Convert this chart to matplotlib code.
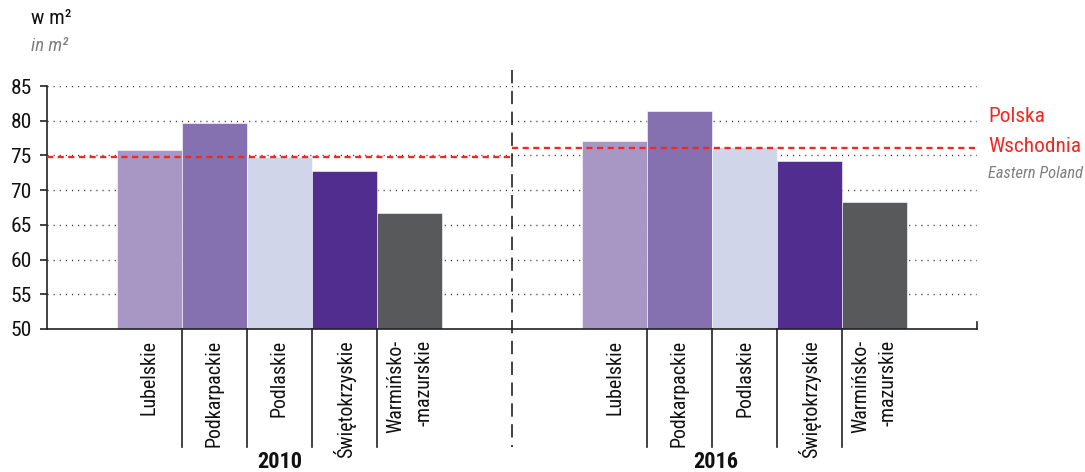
import matplotlib
matplotlib.use("Agg")
import matplotlib.pyplot as plt
from matplotlib import font_manager as fm

# ---- data ----
years = ["2010", "2016"]
regions = ["Lubelskie", "Podkarpackie", "Podlaskie", "Świętokrzyskie", "Warmińsko-\n-mazurskie"]
values_2010 = [75.8, 79.7, 74.8, 72.8, 66.7]
values_2016 = [77.1, 81.4, 76.2, 74.2, 68.3]
eastern_poland = [74.8, 76.0]
yticks = [50, 55, 60, 65, 70, 75, 80, 85]
colors = ["#A897C5", "#8671B0", "#D0D5EA", "#502D8E", "#58595B"]

# pick a condensed font if available
names = {f.name for f in fm.fontManager.ttflist}
stretch = "normal"
family = "DejaVu Sans"
for cand in ["Liberation Sans Narrow", "Roboto Condensed", "Open Sans Condensed", "Noto Sans Condensed"]:
    if cand in names:
        family = cand
        break
else:
    if any(f.name == "DejaVu Sans" and str(f.stretch) in ("condensed", "semi-condensed")
           for f in fm.fontManager.ttflist):
        stretch = "condensed"
plt.rcParams['font.family'] = [family, 'DejaVu Sans']
plt.rcParams['font.stretch'] = stretch

fig = plt.figure(figsize=(10.85, 4.72), dpi=100)
ax = fig.add_axes([47/1085, 1-329/472, (977-47)/1085, (329-86)/472])
renderer = fig.canvas.get_renderer()


def fit(t, target, dim="w", factor=1.0):
    for _ in range(3):
        bb = t.get_window_extent(renderer)
        cur = bb.width if dim == "w" else bb.height
        if cur > 0:
            t.set_fontsize(t.get_fontsize() * target / cur)
    t.set_fontsize(t.get_fontsize() * factor)
    return t


margin = 70/65.0
n = len(regions)
half = 2*margin + n
series = [values_2010, values_2016]

ax.set_xlim(0, 2*half)
ax.set_ylim(50, 85)

for yv in yticks[1:]:
    ax.axhline(yv, color="#333333", lw=1.0, ls=(0, (0.8, 3.6)), zorder=1)

for g, vals in enumerate(series):
    x0 = g*half + margin
    xs = [x0 + i + 0.5 for i in range(n)]
    ax.bar(xs, [v-50 for v in vals], bottom=50, width=1.0, color=colors, zorder=2,
           edgecolor="#ffffff", linewidth=0.4)
    ax.plot([g*half, (g+1)*half], [eastern_poland[g]]*2, color="#EE2A24",
            lw=1.7, ls=(0, (2.6, 1.9)), zorder=3, solid_capstyle='butt')
    for i in range(1, n):
        ax.plot([x0+i, x0+i], [50, 33.0], color="#222222", lw=1.2, clip_on=False, zorder=3)
    for i, lab in enumerate(regions):
        t = ax.text(xs[i], 48.4, lab, rotation=90, ha="center", va="top",
                    multialignment="right", fontsize=12, color="#111111",
                    linespacing=1.6)
        if i == 0:
            fit(t, 68, "h", 1.1)
            size_lab = t.get_fontsize()
        else:
            t.set_fontsize(size_lab)
    t = ax.text(x0 + n/2 + (0.0 if g == 0 else -0.45), 30.8, years[g], ha="center", va="center",
                fontsize=14, fontweight="bold", color="#111111")
    fit(t, 41, "w", 1.1)

ax.plot([half, half], [87.3, 33.0], color="#222222", lw=1.2, ls=(0, (8, 4.5)),
        clip_on=False, zorder=3)
ax.plot([2*half, 2*half], [50, 51.0], color="#222222", lw=1.2, clip_on=False)

ax.spines[['top', 'right']].set_visible(False)
for s in ('left', 'bottom'):
    ax.spines[s].set_color("#222222")
    ax.spines[s].set_linewidth(1.2)
ax.set_yticks(yticks)
ax.set_yticklabels([str(v) for v in yticks], fontsize=14, color="#111111")
ax.tick_params(axis='y', direction='out', length=5, width=1.2, pad=6, color="#222222")
ax.set_xticks([])

tmp = fig.text(0, 0, "85", fontsize=14)
fit(tmp, 19, "w", 1.12)
ysize = tmp.get_fontsize()
tmp.remove()
for lab in ax.get_yticklabels():
    lab.set_fontsize(ysize)

t = fig.text(31/1085, 1-19/472, "w m²", fontsize=14, color="#111111", va="center", ha="left")
fit(t, 37, "w", 1.1)
t = fig.text(31/1085, 1-46/472, "in m²", fontsize=12, color="#7f7f7f", style="italic",
             va="center", ha="left")
fit(t, 34, "w", 1.1)

t2 = fig.text(988/1085, 1-147/472, "Wschodnia", fontsize=15, color="#EE2A24", va="center", ha="left")
fit(t2, 93, "w")
t1 = fig.text(988/1085, 1-117/472, "Polska", fontsize=t2.get_fontsize(), color="#EE2A24",
              va="center", ha="left")
t = fig.text(988/1085, 1-174/472, "Eastern Poland", fontsize=12.5, color="#7f7f7f",
             style="italic", va="center", ha="left")
fit(t, 95, "w")

fig.savefig("out.png", dpi=100)
